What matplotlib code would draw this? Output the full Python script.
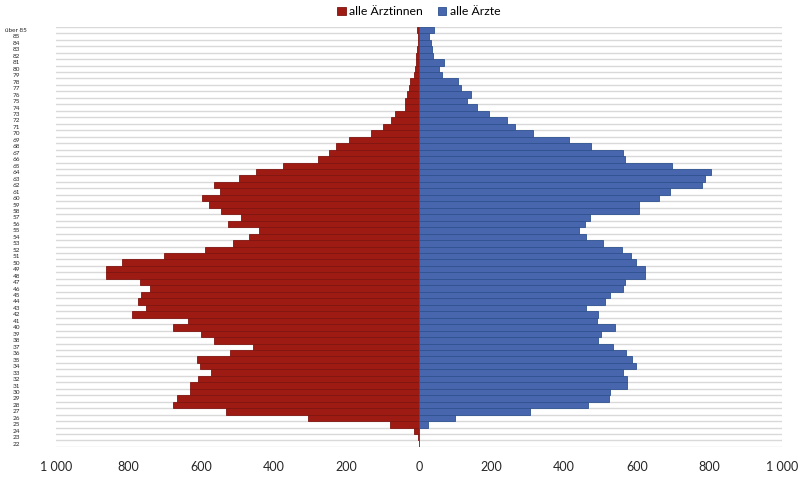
import numpy as np
import matplotlib
matplotlib.use('Agg')
import matplotlib.pyplot as plt
from matplotlib.ticker import FuncFormatter

plt.rcParams['font.family'] = ['Lato', 'DejaVu Sans']

# Altersgruppen von unten (22) nach oben (über 85)
ages = [str(a) for a in range(22, 86)] + ['über 85']

# Ärztinnen (links)
aerztinnen = [1, 2, 15, 79, 305, 531, 678, 666, 631, 631,
              608, 573, 603, 611, 522, 457, 564, 600, 679, 636,
              791, 752, 773, 767, 741, 769, 861, 861, 819, 703,
              589, 513, 468, 440, 525, 490, 545, 578, 597, 547,
              566, 496, 448, 374, 279, 247, 229, 192, 132, 99,
              78, 66, 38, 38, 33, 27, 25, 13, 10, 8,
              7, 5, 3, 2, 6]

# Ärzte (rechts)
aerzte = [0, 0, 1, 24, 99, 306, 465, 523, 525, 572,
          574, 563, 598, 587, 571, 535, 494, 500, 541, 491,
          493, 459, 513, 525, 562, 568, 623, 622, 599, 585,
          560, 507, 460, 440, 456, 472, 606, 606, 661, 691,
          780, 787, 805, 698, 568, 563, 474, 412, 313, 265,
          243, 193, 160, 132, 142, 116, 108, 62, 56, 70,
          38, 35, 33, 28, 42]

y = np.arange(len(ages))

fig = plt.figure(figsize=(8, 4.78), dpi=100)
ax = fig.add_axes([0.07, 0.065, 0.9075, 0.879])

# Gitterlinien an den Kategoriegrenzen
for b in np.arange(-0.5, len(ages), 1.0):
    ax.axhline(b, color='#d9d9d9', linewidth=1.0, zorder=0)

ax.barh(y, [-v for v in aerztinnen], height=1.0, color='#9e1b14',
        edgecolor='#7f1510', linewidth=0.6, label='alle Ärztinnen', zorder=2)
ax.barh(y, aerzte, height=1.0, color='#4866ad',
        edgecolor='#2f528f', linewidth=0.6, label='alle Ärzte', zorder=2)

ax.set_xlim(-1000, 1000)
ax.set_ylim(-0.5, len(ages) - 0.5)
ax.set_xticks(range(-1000, 1001, 200))
ax.xaxis.set_major_formatter(FuncFormatter(
    lambda v, p: f"{abs(int(v)):,}".replace(',', ' ')))
ax.set_yticks(y)
ax.set_yticklabels(ages)

ax.tick_params(axis='x', length=0, pad=10, labelsize=9, labelcolor='#262626')
ax.tick_params(axis='y', length=0, pad=28.5, labelsize=4.6, labelcolor='#262626')
for lbl in ax.get_yticklabels():
    lbl.set_horizontalalignment('center')

for s in ax.spines.values():
    s.set_visible(False)

ax.legend(loc='lower center', bbox_to_anchor=(0.5, 1.005), ncol=2,
          frameon=False, fontsize=8.8, handlelength=0.7, handleheight=0.7,
          handletextpad=0.3, columnspacing=1.2, borderpad=0.1)

plt.savefig('out.png', dpi=100)
plt.close()
